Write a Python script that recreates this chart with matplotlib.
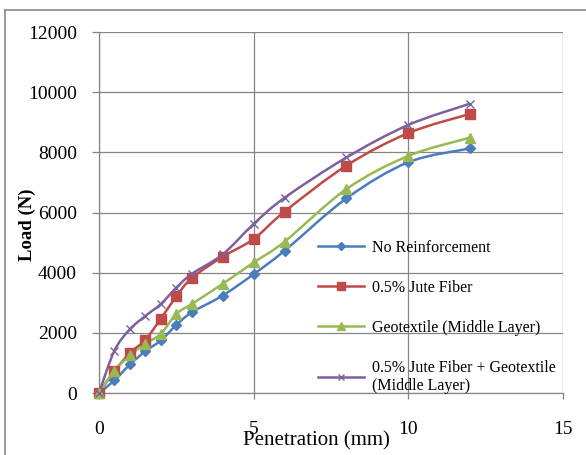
import matplotlib
matplotlib.use("Agg")
import matplotlib.pyplot as plt
from matplotlib.path import Path
from matplotlib.patches import PathPatch
from matplotlib.lines import Line2D

# penetration (mm)
penetration = [0, 0.5, 1, 1.5, 2, 2.5, 3, 4, 5, 6, 8, 10, 12]

# load (N) for each test series
no_reinf = [0, 420, 950, 1390, 1750, 2260, 2680, 3240, 3950, 4730, 6470, 7670, 8130]
jute = [0, 730, 1330, 1770, 2470, 3210, 3820, 4530, 5120, 6030, 7560, 8640, 9280]
geotex = [0, 740, 1250, 1640, 1970, 2630, 2960, 3630, 4340, 5030, 6780, 7880, 8490]
jute_geotex = [0, 1410, 2120, 2560, 2960, 3500, 3960, 4610, 5620, 6490, 7830, 8910, 9620]

labels = [
    "No Reinforcement",
    "0.5% Jute Fiber",
    "Geotextile (Middle Layer)",
    "0.5% Jute Fiber + Geotextile\n(Middle Layer)",
]


def smooth_path(xs, ys):
    """Bezier path through the points, like Excel's smoothed line."""
    verts = [(xs[0], ys[0])]
    codes = [Path.MOVETO]
    n = len(xs)
    for i in range(n - 1):
        x0, y0 = xs[max(i - 1, 0)], ys[max(i - 1, 0)]
        x1, y1 = xs[i], ys[i]
        x2, y2 = xs[i + 1], ys[i + 1]
        x3, y3 = xs[min(i + 2, n - 1)], ys[min(i + 2, n - 1)]
        c1 = (x1 + (x2 - x0) / 6, y1 + (y2 - y0) / 6)
        c2 = (x2 - (x3 - x1) / 6, y2 - (y3 - y1) / 6)
        verts += [c1, c2, (x2, y2)]
        codes += [Path.CURVE4] * 3
    return Path(verts, codes)


def main():
    plt.rcParams["font.family"] = ["Liberation Serif", "DejaVu Serif"]

    fig = plt.figure(figsize=(5.86, 4.55), dpi=100)
    W, H = 586, 455
    ax = fig.add_axes([99 / W, (H - 393) / H, (563 - 99) / W, (393 - 32) / H])

    series = [
        (no_reinf, "#4A7EBB", "D", 5, 1.0),
        (jute, "#BE4B48", "s", 7, 1.0),
        (geotex, "#98B954", "^", 7, 1.0),
        (jute_geotex, "#7D60A0", "x", 6, 1.0),
    ]

    handles = []
    for (ys, color, marker, ms, mew), label in zip(series, labels):
        ax.add_patch(PathPatch(smooth_path(penetration, ys), fill=False,
                               edgecolor=color, lw=1.8, zorder=3))
        ax.plot(penetration, ys, ls="none", marker=marker, ms=ms,
                color=color, mec=color, mew=mew, zorder=4, clip_on=False)
        handles.append(Line2D([], [], color=color, lw=1.8, marker=marker,
                              ms=ms - 1, mew=mew))

    ax.set_xlim(0, 15)
    ax.set_ylim(0, 12000)
    ax.set_xticks([0, 5, 10, 15])
    ax.set_yticks(range(0, 12001, 2000))
    ax.grid(True, color="#858585", lw=0.9)
    ax.set_axisbelow(True)
    for s in ["top", "right"]:
        ax.spines[s].set_visible(False)
    for s in ["left", "bottom"]:
        ax.spines[s].set_color("#858585")
        ax.spines[s].set_linewidth(0.9)
    ax.tick_params(axis="y", length=5, width=0.9, color="#858585",
                   pad=11, labelsize=14)
    ax.tick_params(axis="x", length=4.5, width=0.9, color="#858585",
                   pad=16, labelsize=14)

    ax.set_xlabel("Penetration (mm)", fontsize=15)
    ax.xaxis.set_label_coords((316.5 - 99) / 464, (393 - 431) / 361)
    ax.set_ylabel("Load (N)", fontsize=13.5, fontweight="bold")
    ax.yaxis.set_label_coords((36 - 99) / 464, (393 - 225) / 361)

    ax.legend(handles, labels, loc="upper left", frameon=False,
              bbox_to_anchor=(318 / W, 1 - 240 / H),
              bbox_transform=fig.transFigure, fontsize=11.5,
              handlelength=2.9, handletextpad=0.5, labelspacing=1.5,
              borderpad=0, borderaxespad=0)

    # outer chart border (only top and left edges visible)
    fig.add_artist(Line2D([5 / W, 1], [1 - 10 / H, 1 - 10 / H],
                          color="#8a8a8a", lw=1.2))
    fig.add_artist(Line2D([5 / W, 5 / W], [0, 1 - 10 / H],
                          color="#8a8a8a", lw=1.2))

    fig.savefig("out.png", dpi=100)


if __name__ == "__main__":
    main()
